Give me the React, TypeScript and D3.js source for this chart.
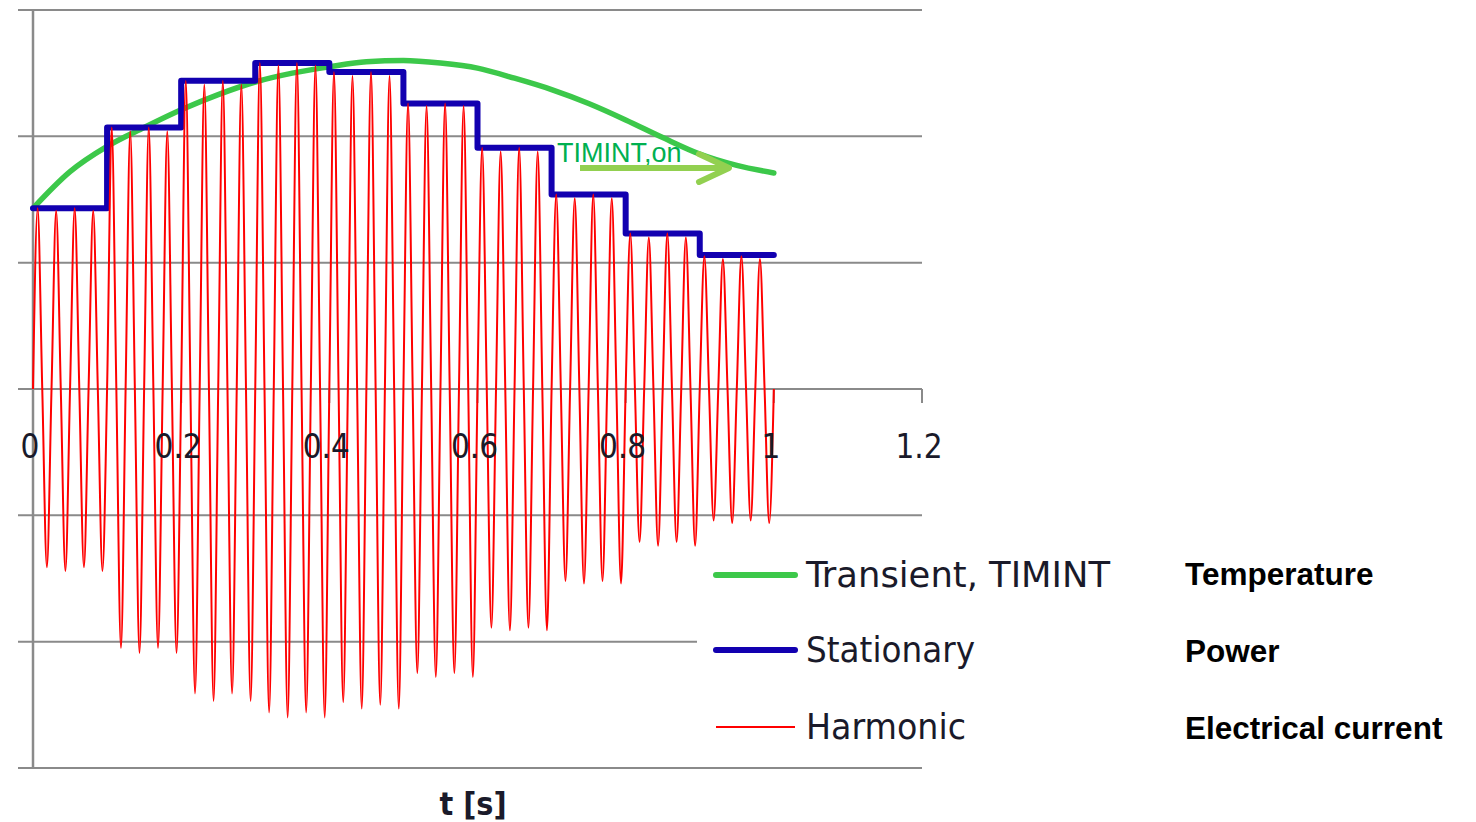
import React from 'react';
import * as d3 from 'd3';

// ---- data ----
const xTickValues = [0, 0.2, 0.4, 0.6, 0.8, 1, 1.2];
const xTickLabels = ['0', '0.2', '0.4', '0.6', '0.8', '1', '1.2'];
const gridValues = [-3, -2, -1, 0, 1, 2, 3];

// Stationary (power) – step levels, each lasting 0.1 s
const stepStarts = [0, 0.1, 0.2, 0.3, 0.4, 0.5, 0.6, 0.7, 0.8, 0.9, 1.0];
const stationaryPower = [1.43, 2.07, 2.44, 2.58, 2.51, 2.26, 1.91, 1.54, 1.23, 1.06, 1.06];

// Transient, TIMINT (temperature)
const transientTime = [0, 0.05, 0.1, 0.15, 0.2, 0.25, 0.3, 0.35, 0.4, 0.45, 0.5, 0.55, 0.6, 0.65, 0.7, 0.75, 0.8, 0.85, 0.9, 0.95, 1.0];
const transientTemp = [1.43, 1.72, 1.92, 2.07, 2.21, 2.33, 2.43, 2.5, 2.55, 2.59, 2.6, 2.58, 2.54, 2.46, 2.37, 2.26, 2.13, 1.99, 1.86, 1.77, 1.71];

// Harmonic (electrical current) – successive peak / trough values, 8 per 0.1 s step
const harmonicExtremes = [
  [1.43, -1.41, 1.41, -1.44, 1.43, -1.41, 1.41, -1.44],
  [2.07, -2.05, 2.04, -2.09, 2.07, -2.05, 2.04, -2.09],
  [2.44, -2.41, 2.41, -2.47, 2.44, -2.41, 2.41, -2.47],
  [2.58, -2.56, 2.56, -2.6, 2.58, -2.56, 2.56, -2.6],
  [2.51, -2.48, 2.48, -2.53, 2.51, -2.5, 2.48, -2.53],
  [2.26, -2.25, 2.24, -2.28, 2.26, -2.25, 2.24, -2.28],
  [1.91, -1.89, 1.88, -1.91, 1.91, -1.89, 1.88, -1.91],
  [1.54, -1.52, 1.51, -1.54, 1.54, -1.52, 1.51, -1.54],
  [1.23, -1.21, 1.2, -1.24, 1.23, -1.21, 1.2, -1.24],
  [1.05, -1.04, 1.03, -1.06, 1.05, -1.04, 1.03, -1.06],
];
const halfPeriod = 0.0125; // s, 40 Hz

const legendItems = ['Transient, TIMINT', 'Stationary', 'Harmonic'];
const legendMeaning = ['Temperature', 'Power', 'Electrical current'];
const legendColors = ['#3cc84a', '#1200b0', '#ff0000'];
const legendWidths = [6, 6, 2];

export default function App() {
  const W = 1476;
  const H = 822;
  const x = d3.scaleLinear().domain([0, 1.2]).range([33, 922]);
  const y = d3.scaleLinear().domain([-3, 3]).range([768, 10]);

  // harmonic points: zero crossings and extremes
  const flat = harmonicExtremes.flat();
  const harmonicPts: [number, number][] = [[0, 0]];
  flat.forEach((v, k) => {
    harmonicPts.push([(k + 0.5) * halfPeriod, v]);
    harmonicPts.push([(k + 1) * halfPeriod, 0]);
  });

  const harmonicLine = d3
    .line<[number, number]>()
    .x((d) => x(d[0]))
    .y((d) => y(d[1]))
    .curve(d3.curveMonotoneX);

  const stepLine = d3
    .line<number>()
    .x((_, i) => x(stepStarts[i]))
    .y((d) => y(d))
    .curve(d3.curveStepAfter);

  const transientLine = d3
    .line<number>()
    .x((_, i) => x(transientTime[i]))
    .y((d) => y(d))
    .curve(d3.curveMonotoneX);

  const gridColor = '#8a8a8a';
  const labelFont = "'DejaVu Sans Condensed', 'DejaVu Sans', sans-serif";
  const legendTextLen = [304, 169, 160];

  return (
    <svg
      width={W}
      height={H}
      style={{ position: 'absolute', left: 0, top: 0, background: '#fff' }}
    >
      <rect x={0} y={0} width={W} height={H} fill="#fff" />
      {/* gridlines */}
      {gridValues.map((v) => (
        <line key={v} x1={18} x2={922} y1={y(v)} y2={y(v)} stroke={gridColor} strokeWidth={2} />
      ))}
      {/* vertical axis */}
      <line x1={x(0)} x2={x(0)} y1={y(3)} y2={y(-3)} stroke={gridColor} strokeWidth={2.5} />
      {/* x ticks */}
      {xTickValues.slice(1).map((t) => (
        <line key={t} x1={x(t)} x2={x(t)} y1={y(0)} y2={y(0) + 14} stroke={gridColor} strokeWidth={2} />
      ))}

      {/* series */}
      <path d={transientLine(transientTemp) || ''} fill="none" stroke={legendColors[0]} strokeWidth={5.5} strokeLinecap="round" />
      <path d={stepLine(stationaryPower) || ''} fill="none" stroke={legendColors[1]} strokeWidth={6} strokeLinejoin="round" strokeLinecap="round" />
      <path d={harmonicLine(harmonicPts) || ''} fill="none" stroke={legendColors[2]} strokeWidth={2} />

      {/* x tick labels */}
      {xTickValues.map((t, i) => (
        <text
          key={t}
          x={x(t) - 3}
          y={458}
          textAnchor="middle"
          fontFamily={labelFont}
          fontSize={33}
          fill="#1a1a2a"
        >
          {xTickLabels[i]}
        </text>
      ))}

      {/* annotation */}
      <text x={557} y={162} fontFamily="'Liberation Sans', Arial, sans-serif" fontSize={27} fill="#00b050">
        TIMINT,on
      </text>
      <line x1={580} x2={728} y1={168} y2={168} stroke="#92d050" strokeWidth={6} />
      <polyline points="699,154 729,168 699,182" fill="none" stroke="#92d050" strokeWidth={6} strokeLinecap="round" strokeLinejoin="round" />

      {/* legend */}
      <rect x={697} y={548} width={430} height={214} fill="#fff" />
      {legendItems.map((name, i) => {
        const ly = [575, 650, 727][i];
        return (
          <g key={name}>
            <line
              x1={716}
              x2={795}
              y1={ly}
              y2={ly}
              stroke={legendColors[i]}
              strokeWidth={legendWidths[i]}
              strokeLinecap={i < 2 ? 'round' : 'butt'}
            />
            <text
              x={806}
              y={ly + 12}
              fontFamily={labelFont}
              fontSize={36}
              fill="#1a1a2a"
              textLength={legendTextLen[i]}
              lengthAdjust="spacingAndGlyphs"
            >
              {name}
            </text>
            <text
              x={1185}
              y={[585, 662, 739][i]}
              fontFamily="'Liberation Sans', Arial, sans-serif"
              fontWeight="bold"
              fontSize={31.5}
              fill="#000"
            >
              {legendMeaning[i]}
            </text>
          </g>
        );
      })}

      {/* axis title */}
      <text
        x={473}
        y={815}
        textAnchor="middle"
        fontFamily={labelFont}
        fontWeight="bold"
        fontSize={32}
        fill="#1a1a2a"
      >
        t [s]
      </text>
    </svg>
  );
}
